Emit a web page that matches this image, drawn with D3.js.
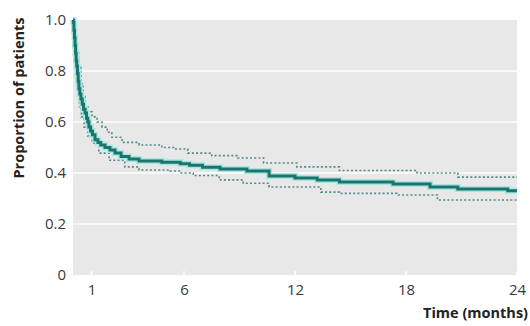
<!DOCTYPE html>
<html>
<head>
<meta charset="utf-8">
<script src="https://cdn.jsdelivr.net/npm/d3@7"></script>
<style>
  body { margin: 0; background: #fff; }
  text { font-family: "Open Sans", sans-serif; }
</style>
</head>
<body>
<div id="chart"></div>
<script>
// Kaplan-Meier style curve with 95% confidence band (step functions)

// Time points (months) and survival proportions
const mainTimes = [0, 0.02, 0.05, 0.08, 0.11, 0.14, 0.17, 0.2, 0.24, 0.28, 0.32, 0.37, 0.43, 0.5, 0.57, 0.65, 0.73, 0.8, 0.86, 0.95, 1.05, 1.19, 1.35, 1.5, 1.73, 2.0, 2.27, 2.6, 3.03, 3.57, 4.8, 5.8, 6.3, 7.0, 7.95, 9.4, 10.6, 12.0, 13.2, 14.4, 17.3, 19.3, 20.8, 23.5, 24];
const mainVals  = [1.0, 0.99, 0.96, 0.93, 0.9, 0.87, 0.84, 0.82, 0.79, 0.76, 0.73, 0.71, 0.69, 0.67, 0.65, 0.635, 0.615, 0.6, 0.58, 0.565, 0.55, 0.53, 0.52, 0.51, 0.5, 0.49, 0.478, 0.465, 0.455, 0.447, 0.442, 0.436, 0.43, 0.423, 0.416, 0.408, 0.388, 0.38, 0.373, 0.365, 0.357, 0.345, 0.337, 0.33, 0.33];

const upperTimes = [0, 0.05, 0.1, 0.15, 0.2, 0.3, 0.43, 0.54, 0.65, 0.8, 1.03, 1.3, 1.57, 1.85, 2.1, 2.65, 3.57, 4.8, 5.5, 6.2, 7.5, 8.9, 10.3, 12.1, 14.4, 18.6, 20.8, 24];
const upperVals  = [1.0, 0.99, 0.96, 0.92, 0.88, 0.82, 0.75, 0.7, 0.66, 0.64, 0.62, 0.6, 0.58, 0.56, 0.54, 0.52, 0.51, 0.5, 0.494, 0.478, 0.468, 0.459, 0.439, 0.424, 0.41, 0.4, 0.384, 0.384];

const lowerTimes = [0, 0.05, 0.1, 0.15, 0.25, 0.35, 0.45, 0.6, 0.8, 1.03, 1.4, 1.95, 2.8, 3.57, 5.24, 5.8, 6.5, 7.9, 9.2, 10.6, 13.4, 14.4, 17.5, 19.7, 24];
const lowerVals  = [1.0, 0.97, 0.92, 0.86, 0.76, 0.66, 0.62, 0.58, 0.545, 0.518, 0.478, 0.45, 0.424, 0.412, 0.408, 0.4, 0.39, 0.373, 0.36, 0.345, 0.325, 0.32, 0.314, 0.294, 0.294];

const xTicks = [1, 6, 12, 18, 24];
const yTicks = [0, 0.2, 0.4, 0.6, 0.8, 1.0];

const W = 530, H = 326;
const svg = d3.select("#chart").append("svg")
    .attr("width", W)
    .attr("height", H);

const x = d3.scaleLinear().domain([0, 24]).range([73, 517]);
const y = d3.scaleLinear().domain([0, 1]).range([275, 20]);

// Plot background
svg.append("rect")
    .attr("x", x(0))
    .attr("y", y(1))
    .attr("width", x(24) - x(0))
    .attr("height", y(0) - y(1))
    .attr("fill", "#e8e8e8");

// Horizontal grid lines
svg.append("g")
    .selectAll("line")
    .data(yTicks.filter(d => d > 0 && d < 1))
    .enter()
    .append("line")
    .attr("x1", x(0))
    .attr("x2", x(24))
    .attr("y1", d => y(d))
    .attr("y2", d => y(d))
    .attr("stroke", "#fff")
    .attr("stroke-width", 1.5);

// Small white ticks at bottom of plot
svg.append("g")
    .selectAll("line")
    .data(xTicks)
    .enter()
    .append("line")
    .attr("x1", d => x(d))
    .attr("x2", d => x(d))
    .attr("y1", y(0))
    .attr("y2", y(0) - 4)
    .attr("stroke", "#fff")
    .attr("stroke-width", 1.5);

// Axes (labels only)
const yAxis = svg.append("g")
    .attr("transform", `translate(${x(0)},0)`)
    .call(d3.axisLeft(y).tickValues(yTicks).tickSize(0).tickPadding(7)
        .tickFormat(d => d === 0 ? "0" : d3.format(".1f")(d)));
yAxis.select(".domain").remove();
yAxis.selectAll("text")
    .style("font-size", "15px")
    .attr("fill", "#3a3a3a");

const xAxis = svg.append("g")
    .attr("transform", `translate(0,${y(0)})`)
    .call(d3.axisBottom(x).tickValues(xTicks).tickSize(0).tickPadding(9));
xAxis.select(".domain").remove();
xAxis.selectAll("text")
    .style("font-size", "15px")
    .attr("fill", "#3a3a3a");

// Axis titles
svg.append("text")
    .attr("transform", `translate(24,98) rotate(-90)`)
    .attr("text-anchor", "middle")
    .style("font-size", "14.5px")
    .style("font-weight", "bold")
    .attr("fill", "#222")
    .text("Proportion of patients");

svg.append("text")
    .attr("x", 528)
    .attr("y", 318)
    .attr("text-anchor", "end")
    .style("font-size", "14.5px")
    .style("font-weight", "bold")
    .attr("fill", "#222")
    .text("Time (months)");

// Lines
const line = d3.line()
    .x(d => x(d[0]))
    .y(d => y(d[1]))
    .curve(d3.curveStepAfter);

const mainData = mainTimes.map((t, i) => [t, mainVals[i]]);
const upperData = upperTimes.map((t, i) => [t, upperVals[i]]);
const lowerData = lowerTimes.map((t, i) => [t, lowerVals[i]]);

[upperData, lowerData].forEach(data => {
    svg.append("path")
        .datum(data)
        .attr("d", line)
        .attr("fill", "none")
        .attr("stroke", "#4f8c87")
        .attr("stroke-width", 1.6)
        .attr("stroke-dasharray", "2,2.2");
});

svg.append("path")
    .datum(mainData)
    .attr("d", line)
    .attr("fill", "none")
    .attr("stroke", "#a8e6e2")
    .attr("stroke-width", 6);

svg.append("path")
    .datum(mainData)
    .attr("d", line)
    .attr("fill", "none")
    .attr("stroke", "#1d746c")
    .attr("stroke-width", 3);
</script>
</body>
</html>
